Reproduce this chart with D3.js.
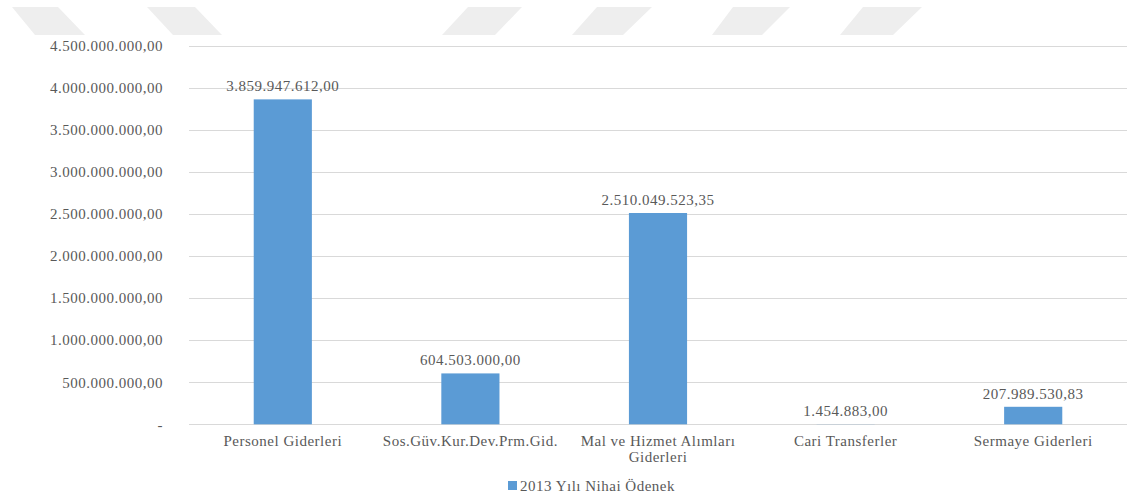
<!DOCTYPE html>
<html>
<head>
<meta charset="utf-8">
<script src="https://cdn.jsdelivr.net/npm/d3@7"></script>
<style>
  html, body { margin: 0; padding: 0; background: #fff; }
  svg { display: block; }
  text { font-family: "Liberation Serif", "Times New Roman", serif; fill: #595959; font-size: 15px; letter-spacing: 0.5px; }
</style>
</head>
<body>
<svg id="chart" width="1129" height="500"></svg>
<script>
// Budget categories and final appropriation amounts (TL)
const categories = [
  "Personel Giderleri",
  "Sos.Güv.Kur.Dev.Prm.Gid.",
  "Mal ve Hizmet Alımları Giderleri",
  "Cari Transferler",
  "Sermaye Giderleri"
];
const values = [3859947612.00, 604503000.00, 2510049523.35, 1454883.00, 207989530.83];
const seriesName = "2013 Yılı Nihai Ödenek";
const yTicks = [0, 500000000, 1000000000, 1500000000, 2000000000, 2500000000, 3000000000, 3500000000, 4000000000, 4500000000];

// Turkish number format: "." thousands, "," decimals
const trLocale = d3.formatLocale({ decimal: ",", thousands: ".", grouping: [3], currency: ["", " TL"] });
const fmt = trLocale.format(",.2f");
const tickFmt = d => d === 0 ? "-" : fmt(d);

const W = 1129, H = 500;
const margin = { left: 189, right: 2, top: 45.5, bottom: 75.7 };
const svg = d3.select("#chart");

// faint banner shapes across the top edge
const banner = [
  [[12, 7], [58, 7], [85, 35], [35, 35]],
  [[147, 7], [195, 7], [222, 35], [173, 35]],
  [[468, 7], [522, 7], [495, 35], [442, 35]],
  [[597, 7], [652, 7], [623, 35], [572, 35]],
  [[733, 7], [790, 7], [762, 35], [712, 35]],
  [[863, 7], [922, 7], [893, 35], [840, 35]]
];
const defs = svg.append("defs");
defs.append("filter").attr("id", "soft")
  .append("feGaussianBlur").attr("stdDeviation", 0.7);
svg.append("g").attr("filter", "url(#soft)")
  .selectAll("polygon").data(banner).join("polygon")
  .attr("points", d => d.map(p => p.join(",")).join(" "))
  .attr("fill", "#eeeeee");

const x = d3.scaleBand().domain(categories)
  .range([margin.left, W - margin.right]).paddingInner(0.69).paddingOuter(0.345);
const y = d3.scaleLinear().domain([0, 4500000000])
  .range([H - margin.bottom, margin.top]);

// gridlines
svg.append("g").selectAll("line").data(yTicks).join("line")
  .attr("x1", margin.left).attr("x2", W - margin.right)
  .attr("y1", d => Math.round(y(d)) + 0.5).attr("y2", d => Math.round(y(d)) + 0.5)
  .attr("stroke", "#d9d9d9").attr("stroke-width", 1);

// y axis labels
const yAxis = d3.axisLeft(y).tickValues(yTicks).tickFormat(tickFmt).tickSize(0).tickPadding(0);
const yg = svg.append("g").attr("transform", `translate(${163},0)`).call(yAxis);
yg.select(".domain").remove();
yg.selectAll("text").attr("font-family", null).attr("font-size", null).attr("fill", null);

// bars
svg.append("g").selectAll("rect").data(values).join("rect")
  .attr("x", (d, i) => x(categories[i]))
  .attr("width", x.bandwidth())
  .attr("y", d => y(d))
  .attr("height", d => y(0) - y(d))
  .attr("fill", "#5b9bd5");

// value labels
svg.append("g").selectAll("text").data(values).join("text")
  .attr("x", (d, i) => x(categories[i]) + x.bandwidth() / 2)
  .attr("y", d => y(d) - 8)
  .attr("text-anchor", "middle")
  .text(d => fmt(d));

// category labels, wrapped to the band step
const xg = svg.append("g");
categories.forEach(c => {
  const cx = x(c) + x.bandwidth() / 2;
  const t = xg.append("text").attr("x", cx).attr("y", y(0) + 22).attr("text-anchor", "middle");
  const words = c.split(" ");
  let line = [];
  let ts = t.append("tspan").attr("x", cx).attr("dy", 0);
  words.forEach(w => {
    line.push(w);
    ts.text(line.join(" "));
    if (ts.node().getComputedTextLength() > x.step() - 6 && line.length > 1) {
      line.pop();
      ts.text(line.join(" "));
      line = [w];
      ts = t.append("tspan").attr("x", cx).attr("dy", 16).text(w);
    }
  });
});

// legend
const lg = svg.append("g");
lg.append("rect").attr("x", 508).attr("y", 481).attr("width", 9).attr("height", 9).attr("fill", "#5b9bd5");
lg.append("text").attr("x", 520).attr("y", 491).text(seriesName);
</script>
</body>
</html>
